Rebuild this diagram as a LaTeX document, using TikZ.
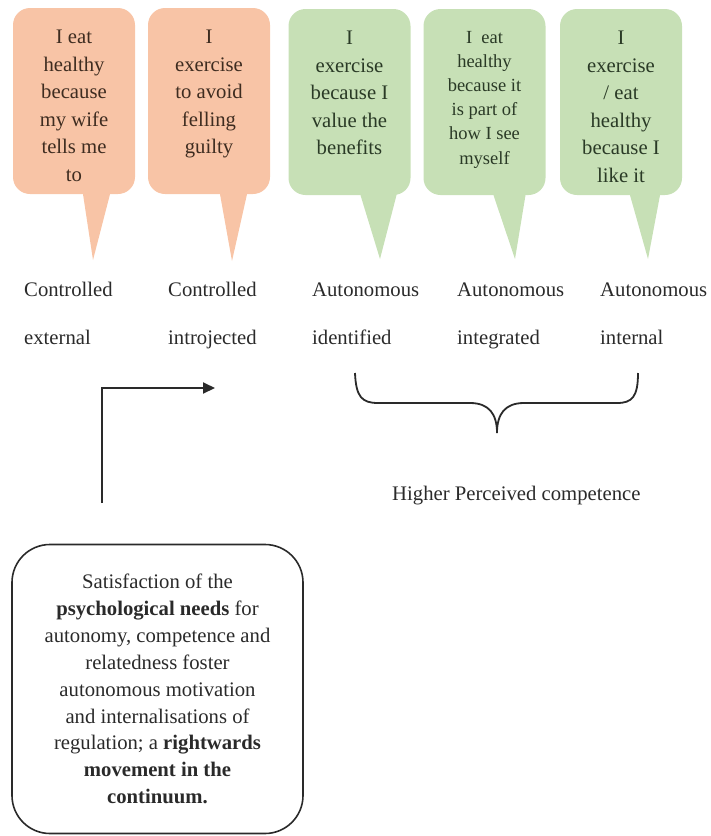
\documentclass[tikz,border=0pt]{standalone}
\usepackage{fontspec}
\setmainfont{Liberation Serif}
\usepackage{tikz}
\usetikzlibrary{arrows.meta, positioning}
\definecolor{peach}{RGB}{248,196,166}
\definecolor{sage}{RGB}{199,224,182}
\definecolor{peachink}{RGB}{62,44,32}
\definecolor{sageink}{RGB}{42,58,38}
\definecolor{inkgray}{RGB}{42,42,42}

% pointer of a speech bubble: colour, bubble, left and right offset from its south, tip
\newcommand{\spike}[5]{%
  \fill[#1] ([xshift=#3pt,yshift=8pt]#2.south) -- ([xshift=#3pt]#2.south) -- (#5)
    -- ([xshift=#4pt]#2.south) -- ([xshift=#4pt,yshift=8pt]#2.south) -- cycle;}

\begin{document}
\begin{tikzpicture}[x=1pt, y=-1pt,
  bubble/.style={rounded corners=17pt, minimum width=122pt, minimum height=186pt, inner sep=0pt},
  say/.style={align=center, inner sep=0pt, font=\fontsize{20.7}{27.6}\selectfont},
  lab/.style={anchor=base west, inner sep=0pt, text=inkgray, font=\fontsize{20.7}{24}\selectfont},
  arr/.style={-{Triangle[length=12pt, width=11pt]}, line width=2pt, inkgray}]
  \useasboundingbox (0,0) rectangle (711,836);

  % speech bubbles
  \node[bubble, fill=peach] (b1) at (74,101)    {};
  \node[bubble, fill=peach] (b2) at (209,101)   {};
  \node[bubble, fill=sage]  (b3) at (349.5,102) {};
  \node[bubble, fill=sage]  (b4) at (484.5,102) {};
  \node[bubble, fill=sage]  (b5) at (621,102)   {};
  \coordinate (tip1) at (93,260);
  \coordinate (tip2) at (232,261);
  \coordinate (tip3) at (380,259);
  \coordinate (tip4) at (515,259);
  \coordinate (tip5) at (648,259);
  \spike{peach}{b1}{9}{36}{tip1}
  \spike{peach}{b2}{11}{38}{tip2}
  \spike{sage}{b3}{11}{47}{tip3}
  \spike{sage}{b4}{9}{41}{tip4}
  \spike{sage}{b5}{9}{39}{tip5}
  \node[say, text=peachink, below=22pt of b1.north] (s1) {I eat\\healthy\\because\\my wife\\tells me\\to};
  \node[say, text=peachink, below=22pt of b2.north] (s2) {I\\exercise\\to avoid\\felling\\guilty};
  \node[say, text=sageink, below=22pt of b3.north] (s3) {I\\exercise\\because I\\value the\\benefits};
  \node[say, text=sageink, below=22pt of b4.north, font=\fontsize{18.5}{24.2}\selectfont] (s4)
    {I\ \ eat\\healthy\\because it\\is part of\\how I see\\myself};
  \node[say, text=sageink, below=22pt of b5.north] (s5) {I\\exercise\\/ eat\\healthy\\because I\\like it};

  % regulation types
  \node[lab] (c1) at (24,296)  {Controlled};
  \node[lab] (c2) at (168,296) {Controlled};
  \node[lab] (c3) at (312,296) {Autonomous};
  \node[lab] (c4) at (457,296) {Autonomous};
  \node[lab] (c5) at (600,296) {Autonomous};
  \node[lab] (r1) at (24,344)  {external};
  \node[lab] (r2) at (168,344) {introjected};
  \node[lab] (r3) at (312,344) {identified};
  \node[lab] (r4) at (457,344) {integrated};
  \node[lab] (r5) at (600,344) {internal};

  % brace over the autonomous types
  \coordinate (bl) at (355,373);
  \coordinate (bt) at (497,433);
  \coordinate (br) at (638,373);
  \draw[line width=1.8pt, inkgray] (bl) .. controls (356,397) and (362,403) .. (378,403) -- (470,403)
    .. controls (489,403) and (497,414) .. (bt) .. controls (497,414) and (505,403) .. (524,403)
    -- (617,403) .. controls (632,403) and (638,397) .. (br);
  \node[lab] (hpc) at (392,500) {Higher Perceived competence};

  % needs box and arrow
  \node[draw=inkgray, line width=1.6pt, rounded corners=38pt, minimum width=291pt, minimum height=289pt,
    align=center, font=\fontsize{20.7}{26.9}\selectfont, text=inkgray] (needs) at (157.5,689)
    {Satisfaction of the\\\textbf{psychological needs} for\\autonomy, competence and\\relatedness foster\\
     autonomous motivation\\and internalisations of\\regulation; a \textbf{rightwards}\\
     \textbf{movement in the}\\\textbf{continuum.}};
  \coordinate (rise) at (102,503);
  \coordinate (push) at (215,388);
  \draw[arr] (rise) |- (push);
\end{tikzpicture}
\end{document}
